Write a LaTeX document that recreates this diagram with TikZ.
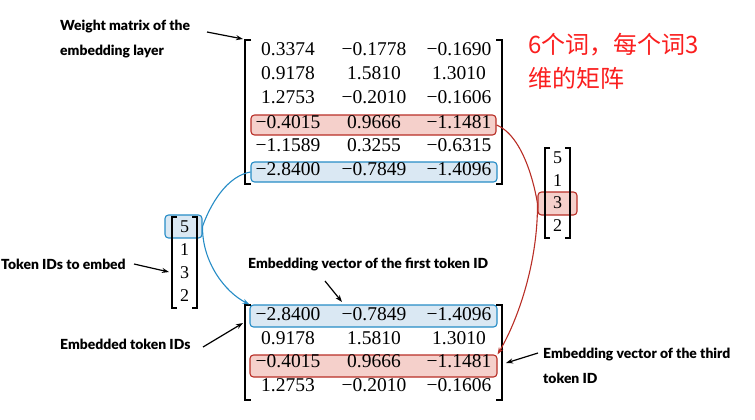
\documentclass[tikz,border=0pt]{standalone}
\usepackage{fontspec}
\setmainfont{Liberation Serif}
\newfontfamily\lblfont{Lato}[BoldFont={Lato Black}]
\newfontfamily\cjk{Noto Sans CJK SC}
\usetikzlibrary{arrows.meta}
\definecolor{bluel}{RGB}{38,140,198}
\definecolor{bluef}{RGB}{218,232,243}
\definecolor{redl}{RGB}{184,46,38}
\definecolor{redf}{RGB}{245,208,203}
\definecolor{cjkred}{RGB}{250,30,30}
\tikzset{
  num/.style={inner sep=0pt, text height=0.68em, text depth=0pt, font=\fontsize{19.5}{22}\selectfont},
  vnum/.style={inner sep=0pt, text height=0.68em, text depth=0pt, font=\fontsize{18}{20}\selectfont},
  lbl/.style={inner sep=0pt, align=left, font=\lblfont\bfseries\fontsize{13.9}{25}\selectfont},
  bluebox/.style={draw=bluel, fill=bluef, line width=1.1pt, rounded corners=3.5pt},
  redbox/.style={draw=redl, fill=redf, line width=1.1pt, rounded corners=3.5pt},
  brk/.style={line width=1.1pt},
  blk/.style={-{Stealth[length=7pt,width=5pt]}, line width=1.2pt},
  bluearr/.style={bluel, line width=1.1pt, -{Stealth[length=7pt,width=5pt]}},
  redarr/.style={redl, line width=1.1pt, -{Stealth[length=7pt,width=5pt]}},
}
\begin{document}
\begin{tikzpicture}[x=1pt,y=-1pt]
\useasboundingbox (0,0) rectangle (755,420);
% ---- highlight boxes
\node[redbox, minimum width=245pt, minimum height=20pt, inner sep=0pt] (tr) at (373.5,125) {};
\node[bluebox, minimum width=246pt, minimum height=20pt, inner sep=0pt] (tb) at (374,172) {};
\node[bluebox, minimum width=247pt, minimum height=22pt, inner sep=0pt] (bb) at (373.5,316) {};
\node[redbox, minimum width=247pt, minimum height=22pt, inner sep=0pt] (br) at (373.5,366) {};
\node[bluebox, minimum width=37pt, minimum height=23pt, inner sep=0pt] (lb) at (183.5,226.5) {};
\node[redbox, minimum width=39pt, minimum height=23pt, inner sep=0pt] (rb) at (557.5,203.5) {};
% ---- top matrix
\draw[brk] (251,40) -- (245,40) -- (245,184) -- (251,184);
\draw[brk] (496,40) -- (502,40) -- (502,184) -- (496,184);
\node[num] (t11) at (288,52) {0.3374};
\node[num] (t12) at (374,52) {−0.1778};
\node[num] (t13) at (459,52) {−0.1690};
\node[num] (t21) at (288,76) {0.9178};
\node[num] (t22) at (374,76) {1.5810};
\node[num] (t23) at (459,76) {1.3010};
\node[num] (t31) at (288,100) {1.2753};
\node[num] (t32) at (374,100) {−0.2010};
\node[num] (t33) at (459,100) {−0.1606};
\node[num] (t41) at (288,125) {−0.4015};
\node[num] (t42) at (374,125) {0.9666};
\node[num] (t43) at (459,125) {−1.1481};
\node[num] (t51) at (288,148) {−1.1589};
\node[num] (t52) at (374,148) {0.3255};
\node[num] (t53) at (459,148) {−0.6315};
\node[num] (t61) at (288,172) {−2.8400};
\node[num] (t62) at (374,172) {−0.7849};
\node[num] (t63) at (459,172) {−1.4096};
% ---- bottom matrix
\draw[brk] (251,305) -- (245,305) -- (245,400) -- (251,400);
\draw[brk] (496,305) -- (502,305) -- (502,400) -- (496,400);
\node[num] (b11) at (288,317) {−2.8400};
\node[num] (b12) at (374,317) {−0.7849};
\node[num] (b13) at (459,317) {−1.4096};
\node[num] (b21) at (288,341) {0.9178};
\node[num] (b22) at (374,341) {1.5810};
\node[num] (b23) at (459,341) {1.3010};
\node[num] (b31) at (288,364) {−0.4015};
\node[num] (b32) at (374,364) {0.9666};
\node[num] (b33) at (459,364) {−1.1481};
\node[num] (b41) at (288,388) {1.2753};
\node[num] (b42) at (374,388) {−0.2010};
\node[num] (b43) at (459,388) {−0.1606};
% ---- left ID vector
\draw[brk] (177,217) -- (172,217) -- (172,308) -- (177,308);
\draw[brk] (192,217) -- (197,217) -- (197,308) -- (192,308);
\node[vnum] (l1) at (184.5,229) {5};
\node[vnum] (l2) at (184.5,252) {1};
\node[vnum] (l3) at (184.5,275) {3};
\node[vnum] (l4) at (184.5,298) {2};
% ---- right ID vector
\draw[brk] (550,148) -- (545,148) -- (545,238) -- (550,238);
\draw[brk] (565,148) -- (570,148) -- (570,238) -- (565,238);
\node[vnum] (r1) at (557.5,160) {5};
\node[vnum] (r2) at (557.5,183) {1};
\node[vnum] (r3) at (557.5,205) {3};
\node[vnum] (r4) at (557.5,228) {2};
% ---- connectors
\draw[bluearr] (tb.west) .. controls (218,178) and (lb.east) .. (lb.east) .. controls (202,262) and (225,292) .. (bb.north west);
\draw[redarr] (tr.east) .. controls (528,138) and (rb.west) .. (rb.west) .. controls (538,262) and (518,320) .. (br.north east);
% ---- labels
\node[lbl, anchor=west] (wm) at (60,27) {Weight matrix of the};
\node[lbl, anchor=west] (wm2) at (60,52) {embedding layer};
\coordinate (wmt) at (243,39);
\draw[blk] (207,32) -- (wmt);
\node[lbl, anchor=west] (tid) at (1,264) {Token IDs to embed};
\draw[blk] (134,264) -- (169,272);
\node[lbl, anchor=west] (eti) at (60,344) {Embedded token IDs};
\draw[blk] (203,347) -- (243,323);
\node[lbl, anchor=west] (evf) at (248,265) {Embedding vector of the first token ID};
\draw[blk] (325,281) -- (342,302);
\node[lbl, anchor=west] (evt) at (543,355) {Embedding vector of the third};
\node[lbl, anchor=west] (evt2) at (543,378) {token ID};
\draw[blk] (538,353) -- (506,363);
% ---- Chinese note
\node[anchor=west, inner sep=0pt, text=cjkred, font=\cjk\fontsize{24}{30}\selectfont] (cn1) at (528,45) {6个词，每个词3};
\node[anchor=west, inner sep=0pt, text=cjkred, font=\cjk\fontsize{24}{30}\selectfont] (cn2) at (528,78) {维的矩阵};
\end{tikzpicture}
\end{document}
